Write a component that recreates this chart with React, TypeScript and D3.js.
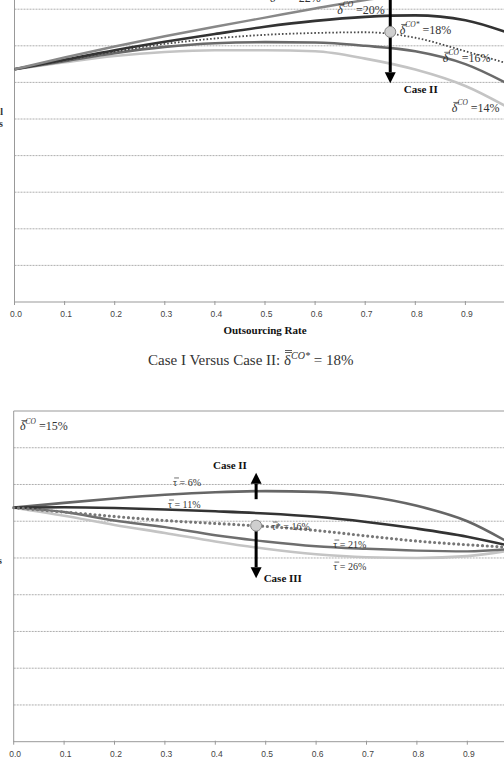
import React from 'react';
import * as d3 from 'd3';

// shared x grid (outsourcing rate)
const xs = [0, 0.1, 0.2, 0.3, 0.4, 0.5, 0.6, 0.7, 0.8, 0.9, 1.0];
const xTickVals = [0, 0.1, 0.2, 0.3, 0.4, 0.5, 0.6, 0.7, 0.8, 0.9, 1.0];
const xTickLabels = ['0.0', '0.1', '0.2', '0.3', '0.4', '0.5', '0.6', '0.7', '0.8', '0.9', ''];
const gridVals = [1, 2, 3, 4, 5, 6, 7, 8];

// Case I vs Case II (top panel), profits in grid units
const delta22 = [6.36, 6.68, 6.98, 7.26, 7.52, 7.77, 8.02, 8.25, 8.42, 8.5, 8.45];
const delta20 = [6.36, 6.62, 6.88, 7.11, 7.32, 7.52, 7.68, 7.79, 7.83, 7.7, 7.28];
const delta18 = [6.36, 6.6, 6.84, 7.05, 7.2, 7.3, 7.35, 7.37, 7.22, 6.85, 6.45];
const delta16 = [6.36, 6.58, 6.8, 6.97, 7.07, 7.1, 7.09, 7.0, 6.85, 6.5, 5.85];
const delta14 = [6.36, 6.55, 6.72, 6.83, 6.88, 6.88, 6.85, 6.65, 6.35, 5.9, 5.2];

// Case II vs Case III (bottom panel)
const tau6 = [6.37, 6.5, 6.62, 6.72, 6.79, 6.82, 6.8, 6.68, 6.42, 6.0, 5.28];
const tau11 = [6.37, 6.38, 6.36, 6.32, 6.27, 6.21, 6.12, 5.98, 5.8, 5.58, 5.28];
const tau16 = [6.37, 6.25, 6.13, 6.02, 5.94, 5.86, 5.75, 5.6, 5.46, 5.36, 5.28];
const tau21 = [6.37, 6.25, 6.02, 5.84, 5.62, 5.45, 5.32, 5.25, 5.2, 5.18, 5.26];
const tau26 = [6.37, 6.15, 5.9, 5.68, 5.45, 5.25, 5.1, 5.02, 5.0, 5.05, 5.24];

// critical points
const topMarker = { x: 0.75, y: 7.38 };
const botMarker = { x: 0.481, y: 5.88 };

const serif = '"Liberation Serif", "Times New Roman", serif';
const sans = '"Liberation Sans", Arial, sans-serif';

type Style = { color: string; width: number; dash?: string; cap?: 'round' | 'butt' };

const topSeries: { values: number[]; style: Style }[] = [
  { values: delta14, style: { color: '#c4c4c4', width: 2.6 } },
  { values: delta16, style: { color: '#6a6a6a', width: 2.6 } },
  { values: delta18, style: { color: '#4a4a4a', width: 1.8, dash: '1.6 2' } },
  { values: delta20, style: { color: '#333', width: 2.6 } },
  { values: delta22, style: { color: '#888', width: 2.4 } },
];

const botSeries: { values: number[]; style: Style }[] = [
  { values: tau26, style: { color: '#c4c4c4', width: 2.6 } },
  { values: tau21, style: { color: '#6e6e6e', width: 2.4 } },
  { values: tau6, style: { color: '#666', width: 2.6 } },
  { values: tau11, style: { color: '#333', width: 2.6 } },
  { values: tau16, style: { color: '#777', width: 3.2, dash: '0 4.8', cap: 'round' } },
];

const SymLabel = ({ x, y, sym, sup, rest, fs, bars = 1, italic = true, fill = '#333' }:
  { x: number; y: number; sym: string; sup?: string; rest: string; fs: number; bars?: number; italic?: boolean; fill?: string }) => {
  const w = fs * 0.48;
  return (
    <g transform={`translate(${x},${y})`}>
      {d3.range(bars).map(i => (
        <line key={i} x1={fs * 0.12} x2={fs * 0.12 + w} y1={-fs * (0.8 + 0.14 * i)} y2={-fs * (0.8 + 0.14 * i)}
          stroke={fill} strokeWidth={0.7} />
      ))}
      <text fontFamily={serif} fontSize={fs} fill={fill}>
        <tspan fontStyle={italic ? 'italic' : 'normal'}>{sym}</tspan>
        {sup && <tspan fontStyle="italic" fontSize={fs * 0.62} dy={-fs * 0.55}>{sup}</tspan>}
        <tspan dy={sup ? fs * 0.55 : 0}>{rest}</tspan>
      </text>
    </g>
  );
};

const Arrow = ({ x, y1, y2 }: { x: number; y1: number; y2: number }) => {
  const dir = y2 > y1 ? 1 : -1;
  const hl = 11, hw = 5.5;
  return (
    <g>
      <line x1={x} x2={x} y1={y1} y2={y2 - dir * hl} stroke="#000" strokeWidth={3} />
      <polygon points={`${x},${y2} ${x - hw},${y2 - dir * hl} ${x + hw},${y2 - dir * hl}`} fill="#000" />
    </g>
  );
};

const Panel = ({ x, y, series, tickY }: {
  x: d3.ScaleLinear<number, number>; y: d3.ScaleLinear<number, number>;
  series: { values: number[]; style: Style }[]; tickY: number;
}) => {
  const line = d3.line<number>().x((_, i) => x(xs[i])).y(d => y(d)).curve(d3.curveMonotoneX);
  const [x0, x1] = x.range();
  const [yb, yt] = y.range();
  return (
    <g>
      {gridVals.map(v => (
        <line key={v} x1={x0} x2={x1} y1={y(v)} y2={y(v)} stroke="#999" strokeWidth={0.8} strokeDasharray="2 1" />
      ))}
      <line x1={x0} x2={x1} y1={yt} y2={yt} stroke="#999" strokeWidth={1} />
      <line x1={x0} x2={x0} y1={yt} y2={yb} stroke="#999" strokeWidth={1} />
      <line x1={x0} x2={x1} y1={yb} y2={yb} stroke="#999" strokeWidth={1} />
      {xTickVals.map((t, i) => (
        <g key={t}>
          <line x1={x(t)} x2={x(t)} y1={yb - 1} y2={yb + 3} stroke="#999" strokeWidth={1} />
          <text x={x(t) + 1.5} y={tickY} textAnchor="middle" fontFamily={sans} fontSize={8.5} fill="#444">
            {xTickLabels[i]}
          </text>
        </g>
      ))}
      {series.map((s, i) => (
        <path key={i} d={line(s.values) ?? ''} fill="none" stroke={s.style.color} strokeWidth={s.style.width}
          strokeDasharray={s.style.dash} strokeLinecap={s.style.cap ?? 'butt'} />
      ))}
    </g>
  );
};

export default function App() {
  const xTop = d3.scaleLinear().domain([0, 1]).range([14.5, 515.5]);
  const yTop = d3.scaleLinear().domain([0, 9]).range([302, -27.4]);
  const xBot = d3.scaleLinear().domain([0, 1]).range([13.7, 517.7]);
  const yBot = d3.scaleLinear().domain([0, 9]).range([741.7, 411]);

  return (
    <div style={{ position: 'absolute', left: 0, top: 0 }}>
      <svg width={504} height={759} style={{ display: 'block', background: '#fff' }}>
        {/* top panel */}
        <text x={3} y={115} textAnchor="end" fontFamily={serif} fontSize={10} fontWeight="bold" fill="#333">Total</text>
        <text x={3} y={127} textAnchor="end" fontFamily={serif} fontSize={10} fontWeight="bold" fill="#333">Profits</text>
        <Panel x={xTop} y={yTop} series={topSeries} tickY={317} />
        <Arrow x={xTop(topMarker.x)} y1={yTop(8.6)} y2={yTop(5.98)} />
        <circle cx={xTop(topMarker.x)} cy={yTop(topMarker.y)} r={5.5} fill="#cfcfcf" stroke="#888" strokeWidth={1} />
        <text x={xTop(0.777)} y={yTop(5.71)} fontFamily={serif} fontSize={11} fontWeight="bold" fill="#111">Case II</text>
        <SymLabel x={xTop(0.51)} y={yTop(8.2)} sym="δ" sup="CO" rest=" = 22%" fs={12} />
        <SymLabel x={xTop(0.644)} y={yTop(7.87)} sym="δ" sup="CO" rest=" =20%" fs={12} />
        <SymLabel x={xTop(0.769)} y={yTop(7.32)} sym="δ" sup="CO*" rest=" =18%" fs={12} />
        <SymLabel x={xTop(0.855)} y={yTop(6.56)} sym="δ" sup="CO" rest=" =16%" fs={12} />
        <SymLabel x={xTop(0.873)} y={yTop(5.19)} sym="δ" sup="CO" rest=" =14%" fs={12} />
        <text x={xTop(0.5)} y={334} textAnchor="middle" fontFamily={serif} fontSize={11} fontWeight="bold" fill="#111">
          Outsourcing Rate
        </text>
        <g transform="translate(148,365)">
          <text fontFamily={serif} fontSize={15} fill="#333">
            <tspan>Case I Versus Case II: </tspan>
            <tspan>δ</tspan>
            <tspan fontStyle="italic" fontSize={10} dy={-6}>CO*</tspan>
            <tspan dy={6}> = 18%</tspan>
          </text>
          <line x1={137} x2={144} y1={-12.5} y2={-12.5} stroke="#333" strokeWidth={0.8} />
          <line x1={137} x2={144} y1={-14.5} y2={-14.5} stroke="#333" strokeWidth={0.8} />
        </g>

        {/* bottom panel */}
        <text x={2} y={564} textAnchor="end" fontFamily={serif} fontSize={10} fontWeight="bold" fill="#333">Profits</text>
        <Panel x={xBot} y={yBot} series={botSeries} tickY={757} />
        <Arrow x={xBot(botMarker.x)} y1={yBot(6.6)} y2={yBot(7.32)} />
        <Arrow x={xBot(botMarker.x)} y1={yBot(6.0)} y2={yBot(4.45)} />
        <circle cx={xBot(botMarker.x)} cy={yBot(botMarker.y)} r={5.5} fill="#cfcfcf" stroke="#888" strokeWidth={1} />
        <text x={xBot(0.429)} y={yBot(7.42)} textAnchor="middle" fontFamily={serif} fontSize={11} fontWeight="bold" fill="#111">Case II</text>
        <text x={xBot(0.496)} y={yBot(4.35)} fontFamily={serif} fontSize={11} fontWeight="bold" fill="#111">Case III</text>
        <SymLabel x={xBot(0.0125)} y={yBot(8.48)} sym="δ" sup="CO" rest=" =15%" fs={12} />
        <SymLabel x={xBot(0.316)} y={yBot(6.96)} sym="τ" rest=" = 6%" fs={10} italic={false} />
        <SymLabel x={xBot(0.306)} y={yBot(6.36)} sym="τ" rest=" = 11%" fs={10} italic={false} />
        <SymLabel x={xBot(0.512)} y={yBot(5.76)} sym="τ" rest="* = 16%" fs={10} italic={false} />
        <SymLabel x={xBot(0.634)} y={yBot(5.27)} sym="τ" rest=" = 21%" fs={10} italic={false} />
        <SymLabel x={xBot(0.634)} y={yBot(4.67)} sym="τ" rest=" = 26%" fs={10} italic={false} />
      </svg>
    </div>
  );
}
